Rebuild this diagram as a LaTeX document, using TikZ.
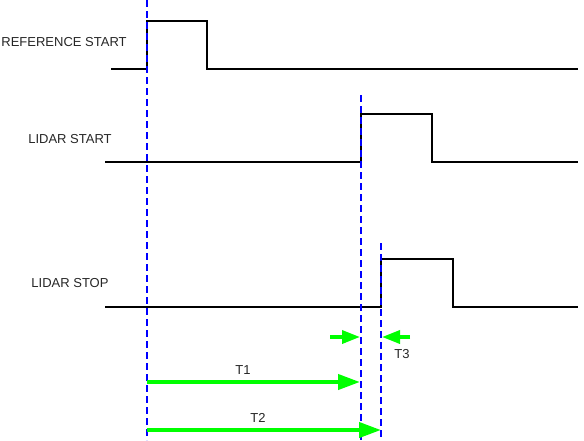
\documentclass[tikz,border=0pt]{standalone}
\usepackage{fontspec}
\setmainfont{Liberation Sans}
\usetikzlibrary{arrows.meta}
\definecolor{sigblue}{RGB}{0,0,255}
\definecolor{arrgreen}{RGB}{0,255,0}
\tikzset{
  signal/.style={line width=1.2pt, black},
  marker/.style={sigblue, line width=1.15pt, dash pattern=on 7pt off 4pt},
  bigarrow/.style={arrgreen, line width=4pt, -{Triangle[length=22pt,width=15pt]}},
  smallarrow/.style={arrgreen, line width=3.5pt, -{Triangle[length=18pt,width=13pt]}},
  lbl/.style={font=\fontsize{13pt}{15pt}\selectfont, text=black!85, inner sep=0pt},
}
\begin{document}
\begin{tikzpicture}[x=1pt,y=-1pt]
\useasboundingbox (0,0) rectangle (584,440);
% labels
\node[lbl] (lref) at (64,42) {REFERENCE START};
\node[lbl] (lls) at (70,139) {LIDAR START};
\node[lbl] (llstop) at (70,283) {LIDAR STOP};
% waveforms
\draw[signal] (111,69) -- (147,69) -- (147,21) -- (207,21) -- (207,69) -- (578,69);
\draw[signal] (105,162) -- (361,162) -- (361,114) -- (432,114) -- (432,162) -- (578,162);
\draw[signal] (105,307) -- (381,307) -- (381,259) -- (453,259) -- (453,307) -- (578,307);
% markers
\coordinate (m0t) at (147,0);   \coordinate (m0b) at (147,440);
\coordinate (m1t) at (361,95);  \coordinate (m1b) at (361,440);
\coordinate (m2t) at (381,243); \coordinate (m2b) at (381,440);
\draw[marker] (m0t) -- (m0b);
\draw[marker] (m1t) -- (m1b);
\draw[marker] (m2t) -- (m2b);
% T3
\coordinate (a3s) at (330,337); \coordinate (a3e) at (360,337);
\coordinate (b3s) at (410,337); \coordinate (b3e) at (382,337);
\draw[smallarrow] (a3s) -- (a3e);
\draw[smallarrow] (b3s) -- (b3e);
\node[lbl] (t3) at (402,354) {T3};
% T1
\coordinate (t1s) at (147,382); \coordinate (t1e) at (360,382);
\draw[bigarrow] (t1s) -- (t1e);
\node[lbl] (t1) at (243,370) {T1};
% T2
\coordinate (t2s) at (147,430); \coordinate (t2e) at (381,430);
\draw[bigarrow] (t2s) -- (t2e);
\node[lbl] (t2) at (258,418) {T2};
\end{tikzpicture}
\end{document}
